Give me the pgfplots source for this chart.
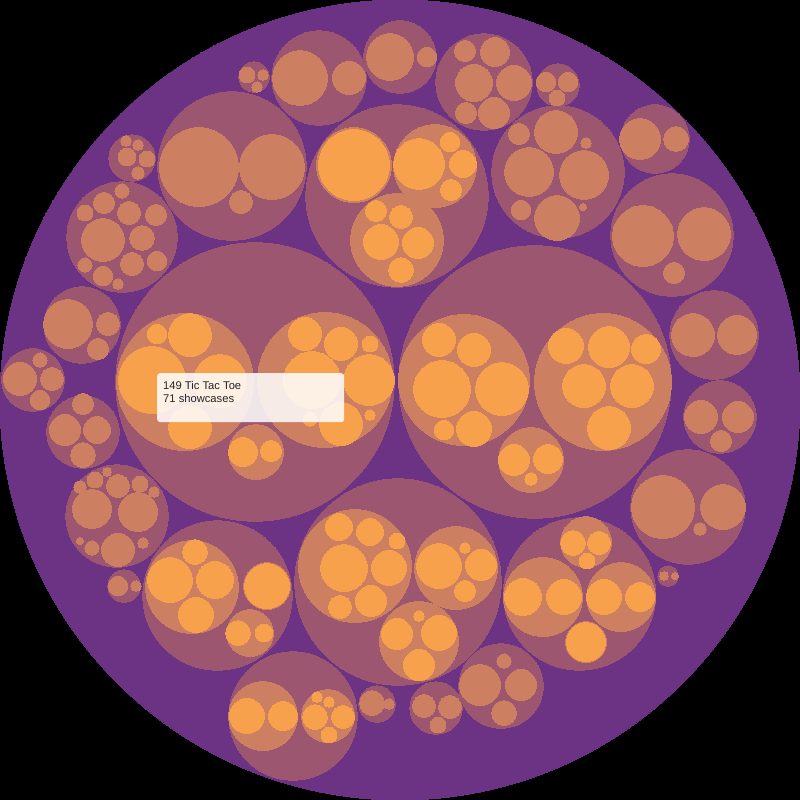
\documentclass[border=0pt]{standalone}
\usepackage{pgfplots}
\pgfplotsset{compat=1.18}
\usepackage{fontspec}
\setmainfont{Liberation Sans}
\definecolor{bgp}{RGB}{108,50,132}
\definecolor{done}{RGB}{157,86,112}
\definecolor{dtwo}{RGB}{205,127,97}
\definecolor{dthree}{RGB}{247,161,76}
\pgfplotsset{bubble/.style 2 args={only marks, scatter, mark=*, draw=#1, fill=#1,
  mark options={draw=#1, fill=#1, line width=0pt},
  scatter/use mapped color={draw=#1, fill=#1},
  visualization depends on={\thisrow{r}\as\rr},
  scatter/@pre marker code/.append style={/tikz/mark size={\rr-min(#2,0.12*\rr)}, /tikz/line width=0pt}}}
\begin{document}
\begin{tikzpicture}
\begin{axis}[scale only axis, width=800pt, height=800pt,
  xmin=0, xmax=800, ymin=0, ymax=800, y dir=reverse,
  axis line style={draw=none}, ticks=none,
  axis background/.style={fill=black}, clip=false]
% depth 0
\addplot[bubble={bgp}{0}] table {
x y r
400 400 400
};
% depth 1
\addplot[bubble={done}{0.8}] table {
x y r
255 382 140
535 382 137
398 582 104
397 196 92
232 166 75
319 78 48
400 57 37
484 82 49
558 172 67
558 85 22
655 139 35
672 235 62
714 335 45
720 417 37
688 507 58
668 576 11
579.5 594 77
501 686 43
436 708 27
377 704 19
293 716 65
217.5 595.5 75.5
124 586 17
117 516 52
83 432 37
33 380 32
82 325 39
122 237 56
132 158 24
254 77 16
};
% depth 2
\addplot[bubble={dtwo}{1.6}] table {
x y r
185 382 70
325 380 69
256 452 29
464 380 67
603 382 70
531 460 34
355 566 58
456 568 43
419 641 41
354 165 39
435 166 43
397 240 48
199 167 41
272 167 34
241 202 13
300 78 29
349 78 18
390 57 25
427 57 11
465 51 12
495 52 16
474 83 20
514 83 19
466 113 12
494 113 17
556 132 23
519 134 12
529 172 26
584 175 26
557 218 24
521 210 11
586 143 6
583 207 4
546 82 11
568 82 11
557 98 9
640 139 22
676 139 14
643 236 32
704 234 28
674 273 12
693 335 23
737 335 21
701 417 18
738 417 17
721 441 12
663 507 33
723 507 24
700 529 7
664 576 5
675 576 4
586 542 27
543 597 41
621 597 36
586 642 22
480 685 22
521 685 17
504 661 8
504 713 14
424 706 13
450 707 13
438 725 9
372 703 14
389 704 6
263 716 36
328 716 28
192 587 48
267 586 25
250 633 25
118 586 11
136 586 6
92 509 21
138 512 21
80 487 7
95 480 9
107 472 5
118 486 13
140 484 9
154 492 6
118 550 18
143 543 6
80 541 4
92 548 8
83 404 12
65 430 17
97 430 15
83 455 14
20 379 18
52 379 13
40 360 8
40 400 11
68 324 26
108 324 13
98 349 12
122 191 8
104 203 12
129 213 13
85 213 9
156 215 12
103 240 23
142 238 14
132 264 13
85 265 8
157 261 11
103 276 11
118 284 6
126 141 6
138 145 6
127 157 10
147 159 9
138 173 7
247 75 9
263 75 6
257 87 6
};
% depth 3
\addplot[bubble={dthree}{1.6}] table {
x y r
190 335 23
157 334 11
152 380 35
220 381 28
190 427 23
305 334 18
341 344 18
370 344 9
369 380 27
312 380 30
341 424 23
310 419 8
370 415 6
243 452 16
271 451 12
439 340 18
474 350 18
442 389 30
502 389 28
444 430 11
474 429 19
566 346 19
609 347 22
646 349 16
584 386 23
632 386 23
609 428 23
514 460 17
548 459 16
531 479 7
339 527 15
370 532 15
397 541 9
344 568 25
389 568 19
340 607 13
371 601 17
439 566 24
481 565 17
465 591 12
465 548 6
397 634 17
439 633 19
419 665 17
419 616 6
354 165 37
419 164 27
450 142 11
463 164 15
451 190 12
376 211 12
401 217 13
381 242 19
418 243 17
401 270 14
573 543 14
599 543 13
587 561 9
523 597 20
564 597 19
604 597 19
640 597 16
586 642 21
247 716 19
283 716 16
317 697 6
329 702 6
315 717 14
343 717 13
329 735 9
170 580 24
215 580 20
195 552 14
196 615 19
267 586 24
238 633 14
264 633 10
};
\coordinate (tipNW) at (axis cs:157,373);
\coordinate (tipL1) at (axis cs:163,390);
\coordinate (tipL2) at (axis cs:163,403);
\end{axis}
\node[anchor=north west, fill=white, fill opacity=0.85, rounded corners=3pt,
  minimum width=187pt, minimum height=49pt, inner sep=0pt] at (tipNW) {};
\node[anchor=base west, inner sep=0pt, text=black!85, font=\fontsize{11.2}{13}\selectfont] at (tipL1) {149 Tic Tac Toe};
\node[anchor=base west, inner sep=0pt, text=black!85, font=\fontsize{11.2}{13}\selectfont] at (tipL2) {71 showcases};
\end{tikzpicture}
\end{document}
